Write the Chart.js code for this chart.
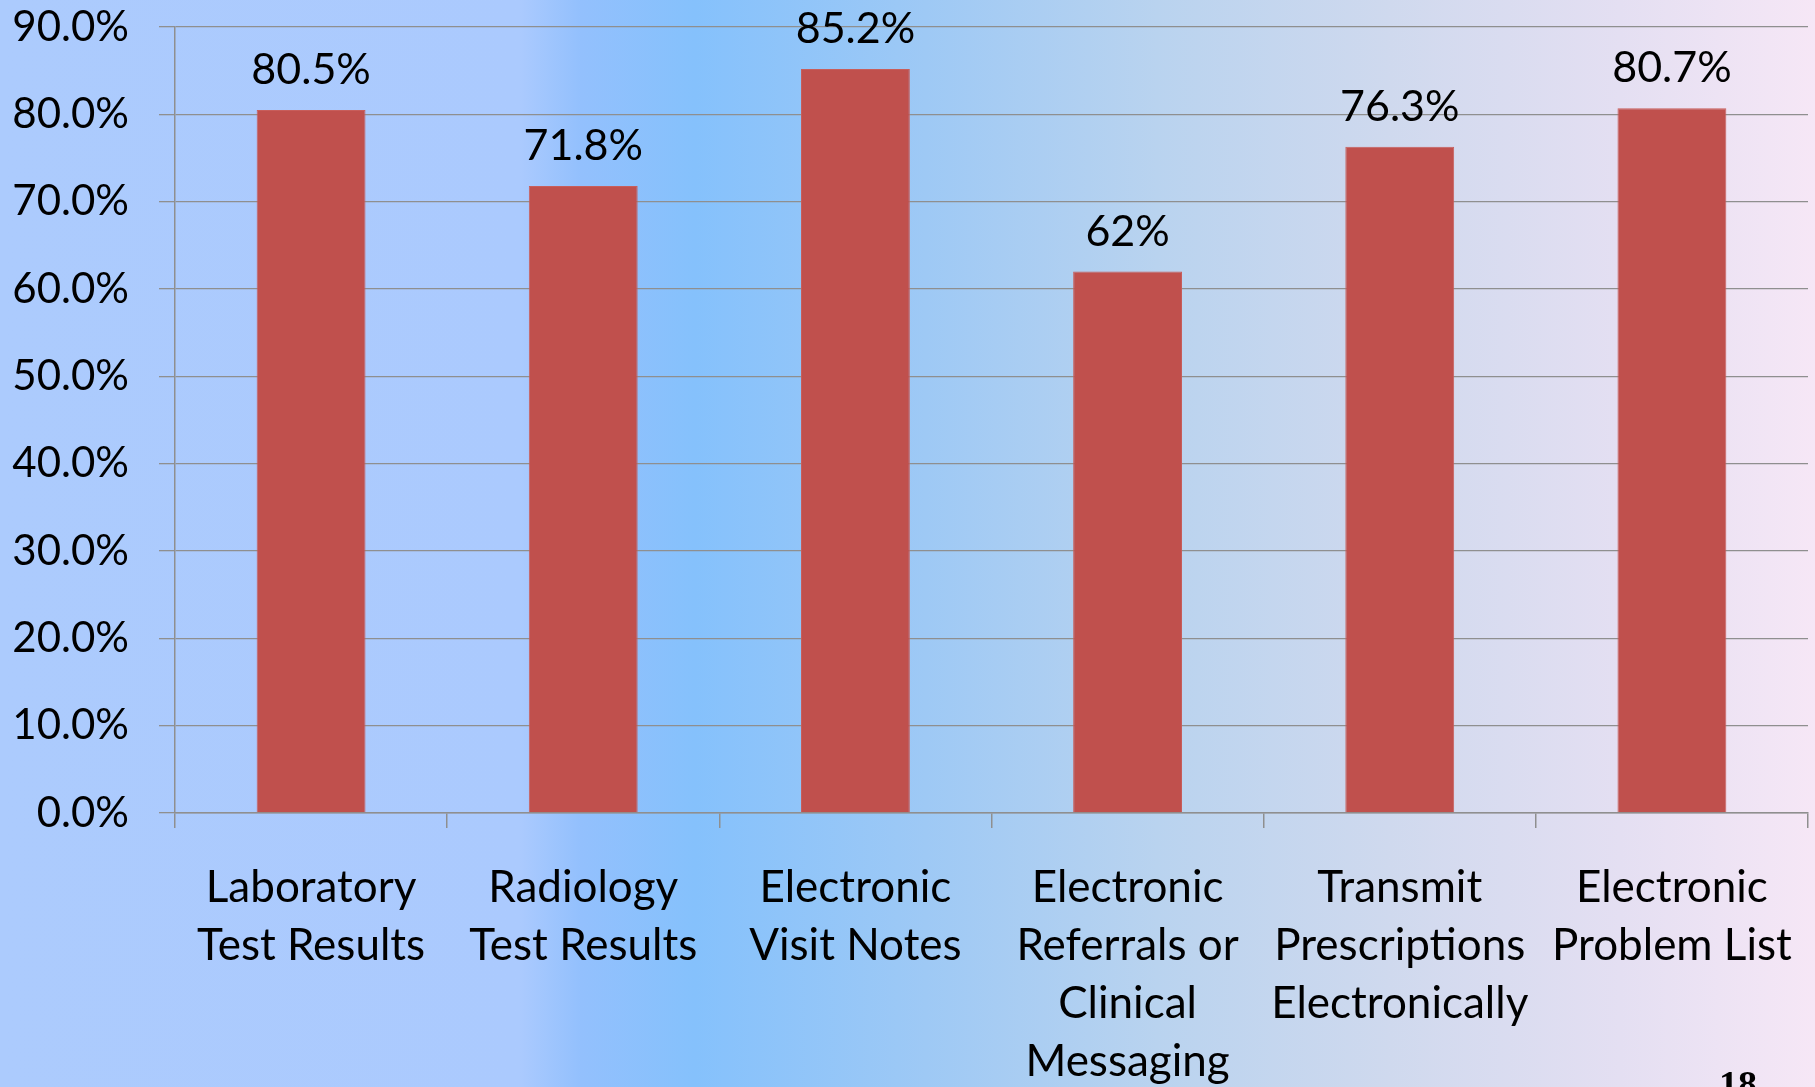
<!DOCTYPE html>
<html>
<head>
<meta charset="utf-8">
<script src="https://cdn.jsdelivr.net/npm/chart.js@4"></script>
<style>
  html, body { margin: 0; padding: 0; width: 1815px; height: 1087px; overflow: hidden; }
  body {
    background: linear-gradient(to right,
      #accbfd 0px, #abcafe 520px, #93c0fd 580px, #85c1fc 695px,
      #9ec9f5 926px, #b9d3ef 1157px, #cfd9ee 1389px, #e4dff2 1620px, #f6e7f6 1815px);
    position: relative;
  }
  #wrap { position: absolute; left: 0; top: 0; width: 1815px; height: 1087px; }
  #pg { position: absolute; left: 1719px; top: 1065px; font: bold 38px "Liberation Serif", serif; line-height: 38px; color: #000; }
</style>
</head>
<body>
<div id="wrap"><canvas id="c" width="1815" height="1087"></canvas></div>
<div id="pg">18</div>
<script>
const categories = [
  ["Laboratory", "Test Results"],
  ["Radiology", "Test Results"],
  ["Electronic", "Visit Notes"],
  ["Electronic", "Referrals or", "Clinical", "Messaging"],
  ["Transmit", "Prescriptions", "Electronically"],
  ["Electronic", "Problem List"]
];
const values = [80.5, 71.8, 85.2, 62, 76.3, 80.7];
const valueLabels = ["80.5%", "71.8%", "85.2%", "62%", "76.3%", "80.7%"];
const yTickMax = 90;
const yTickStep = 10;

const FONT = 'Lato, "Noto Sans", sans-serif';

const dataLabelPlugin = {
  id: 'dataLabels',
  afterDatasetsDraw(chart) {
    const ctx = chart.ctx;
    const meta = chart.getDatasetMeta(0);
    ctx.save();
    ctx.font = '43px ' + FONT;
    ctx.fillStyle = '#000';
    ctx.textAlign = 'center';
    ctx.textBaseline = 'alphabetic';
    meta.data.forEach((bar, i) => {
      ctx.fillText(valueLabels[i], bar.x, bar.y - 26);
    });
    ctx.restore();
  }
};

new Chart(document.getElementById('c'), {
  type: 'bar',
  data: {
    labels: categories,
    datasets: [{
      data: values,
      backgroundColor: '#c0504d',
      borderColor: '#c85e5b',
      borderWidth: 1,
      categoryPercentage: 0.8,
      barPercentage: 0.5
    }]
  },
  options: {
    responsive: false,
    animation: false,
    devicePixelRatio: 1,
    layout: { padding: { top: 27, right: 7, left: 0, bottom: 0 } },
    plugins: { legend: { display: false }, tooltip: { enabled: false } },
    scales: {
      x: {
        grid: {
          offset: true,
          drawOnChartArea: false,
          drawTicks: true,
          tickLength: 15,
          color: '#8f8f8f',
          lineWidth: 1.5
        },
        border: { display: true, color: '#8f8f8f', width: 1.5 },
        ticks: {
          color: '#000',
          font: { family: FONT, size: 44, lineHeight: 1.32 },
          padding: 31,
          maxRotation: 0,
          autoSkip: false
        },
        afterFit(scale) { scale.height = 274; scale.paddingLeft = 0; scale.paddingRight = 0; }
      },
      y: {
        min: 0,
        max: yTickMax,
        grid: {
          color: '#8f8f8f',
          lineWidth: 1.3,
          tickLength: 16,
          drawTicks: true
        },
        border: { display: true, color: '#8f8f8f', width: 1.5 },
        ticks: {
          stepSize: yTickStep,
          color: '#000',
          font: { family: FONT, size: 42 },
          padding: 30,
          callback: v => v.toFixed(1) + '%'
        },
        afterFit(scale) { scale.width = 175; scale.paddingTop = 0; scale.paddingBottom = 0; }
      }
    }
  },
  plugins: [dataLabelPlugin]
});
</script>
</body>
</html>
